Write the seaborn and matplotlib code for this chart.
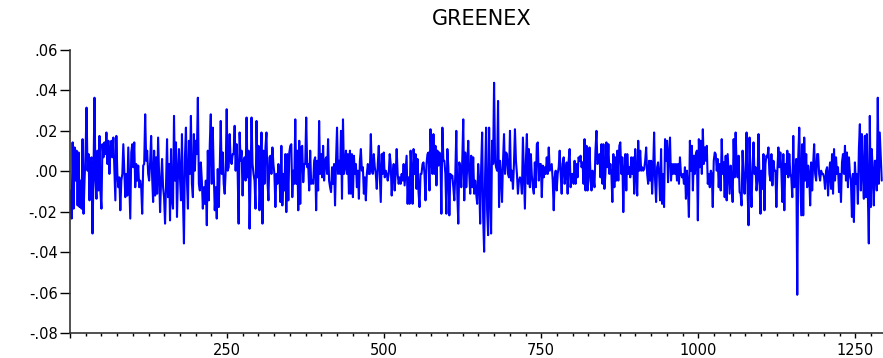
import numpy as np
import pandas as pd
import matplotlib
matplotlib.use("Agg")
import matplotlib.pyplot as plt
import seaborn as sns
from matplotlib.ticker import FuncFormatter, MultipleLocator

sns.set_style("ticks")
plt.rcParams["font.family"] = ["DejaVu Sans"]
plt.rcParams["text.color"] = "black"
plt.rcParams["xtick.color"] = "black"
plt.rcParams["ytick.color"] = "black"

# daily returns, in percent, left to right
seg1 = [-0.95, -2.34, 1.43, -1.85, 1.18, -0.46, 1.02, -1.69, 0.93, -1.77, -0.46, -1.85, 1.59, -2.10,
        -0.46, 0.85, 3.15, 0.03, 0.85, -1.44, 0.52, 0.69, -3.08, -0.13, 3.64, -0.46, -1.36, 1.02,
        -0.95, 1.75, -1.03, -1.85, 1.34, 0.69, 1.43, 0.85, 1.92, 0.36, 1.51, -0.13, 1.02, 1.51, 0.69,
        1.67, 0.03, -1.44, 1.75, -0.13, -0.79, -0.30, -1.93, -0.46, -0.13, 1.34, 0.03, -1.28, -0.13,
        -1.20, 1.18, -0.62, -2.34, 0.93, 1.34, 0.20, 1.43, -0.79, 0.36, -0.46, 0.28, -0.79, -0.46,
        -0.79, -2.10, 0.28]
seg2 = [0.36, 2.82, 0.52, 1.02, -0.13, -0.46, 0.44, 1.75, -0.30, -1.52, 1.02, -1.20, 0.69, -1.11,
        1.67, -0.13, -2.02, -0.46, 0.61, -0.79, -1.28, -2.59, -0.62, 1.59, -1.28, 0.36, -2.43, 1.10,
        -1.44, -1.85, 2.74, -0.46, 1.43, -2.26, -0.13, 1.10, -0.30, -1.44, 1.84, -1.36, -3.57, 0.69,
        2.16, -0.46, -1.85, 1.51, -0.13, 2.74, -0.62, -1.28, 1.84, 0.03, 1.51, 0.85, 3.64, -0.62,
        -0.95, 0.44, -0.46, -1.85, -0.79, -1.61, -0.46, -2.67, 1.02, -1.44, 1.34, 2.82, -0.62, 2.16,
        -0.13, -1.93, -0.79, -2.34, 0.11, -1.77]
seg3 = [0.11, 2.49, -0.13, 0.93, -0.62, -1.11, 0.03, 3.07, 0.03, 0.20, 1.84, 0.52, 0.36, 0.85,
        0.85, 2.25, 0.03, 1.34, 0.03, -2.59, 1.92, 0.52, 1.02, -1.20, 0.52, 0.69, -0.46, 2.66, -0.30,
        1.02, -2.84, -0.46, 2.66, 0.36, -0.13, -0.46, -1.85, 2.49, -0.30, 1.26, -1.93, -0.46, 1.92,
        -2.59, 1.02, -0.62, 1.18, 1.92, -0.46, -1.44, 0.69, 0.77, -0.13, 1.18, 0.36, -0.13, -1.77,
        -0.13, -0.62, 0.36, -0.13, -1.52, 1.26, -1.69, -0.13, -0.95, 0.85, -2.02, 0.85, -1.44, 0.93,
        1.26, 1.34, -1.28, 0.03, -0.62]
seg4 = [2.57, -0.62, 1.02, -1.93, 1.51, -1.61, 1.18, 1.26, -0.54, 0.36, 0.36, 2.66, 0.20, 0.36,
        -0.95, 1.02, -0.62, -0.46, -0.62, 0.52, 0.69, -1.93, 0.52, -0.95, 2.49, -0.13, 0.85, -0.30,
        1.26, -0.46, 0.52, 0.69, -0.13, 1.59, -0.46, -0.79, -1.03, 0.20, -0.62, 0.36, -1.69, 0.52,
        2.16, -0.13, 0.52, -0.13, 2.00, -1.36, 2.57, -0.13, 0.20, 1.02, -0.13, 0.85, -1.11, 1.02,
        -1.11, 0.85, -1.28, 0.77, -0.13, 0.36, -0.79, 0.03, -1.36, 0.52, 1.10, 0.03, 0.20, -1.11,
        -0.30, -1.44, -0.13, 0.36, -0.13]
seg5 = [-0.13, 1.84, 0.03, -0.13, 0.85, 0.20, -0.13, -0.87, 0.36, 1.26, -0.13, -1.52, 0.85, -0.13,
        0.93, -0.30, 0.03, -0.13, -0.46, -0.13, 0.85, 0.36, -1.20, -0.13, 0.36, -0.95, -0.13, 1.10,
        -0.13, -0.62, -0.30, -0.62, -0.13, -0.46, 0.36, -0.70, 0.03, 0.77, -1.61, -0.30, -1.61, 1.02,
        0.03, -1.61, 1.10, -0.13, 0.85, -0.87, 0.61, -1.03, -1.77, -0.13, -0.13, 0.36, 0.44, -0.13,
        -1.44, 0.36, 0.85, 0.93, -0.95, 2.08, 0.52, -0.13, 1.84, -0.13, 1.26, -0.70, 1.02, 0.28,
        0.93, 0.69, -2.10, 2.16, 0.52]
seg6 = [0.52, -0.13, -2.10, 1.10, 0.20, -2.18, -0.13, -0.30, -0.21, -0.79, -1.44, -0.13, 2.00,
        -1.11, -2.59, 0.44, 0.20, -0.79, 0.52, 2.57, -1.44, 0.93, -0.79, 0.20, 1.51, -0.13, -1.11,
        0.77, -0.79, 0.69, -1.11, -0.46, -1.11, -1.61, 0.36, -0.46, -2.59, 0.20, 1.92, -2.26, -3.98,
        -0.13, 2.16, -1.93, -3.16, 2.16, -1.11, -3.08, 1.51, 0.36, 4.38, 0.52, 0.20, 0.03, 3.48,
        -1.77, 0.52, -0.13, -1.52, 0.52, 1.84, -0.13, 0.93, 0.85, -0.13, -0.30, 2.00, -0.46, 0.03,
        -0.87, 0.36, 2.08, 0.52, -0.13, -1.11, -0.46]
seg7 = [-0.30, -0.46, -1.11, 1.67, -0.13, -1.85, 0.52, 1.84, -0.62, 1.10, -0.79, 0.85, -0.21,
        -0.79, -1.11, 0.44, -0.79, 1.34, 1.43, -0.46, 0.36, 0.36, -1.28, 0.28, -0.30, 0.20, -0.13,
        0.69, -0.13, 1.18, 0.03, 0.20, 0.36, -0.46, -1.93, -0.30, 0.03, -0.95, -0.13, 0.20, 1.02,
        -0.13, -1.11, 0.36, 0.69, -0.62, -0.13, 0.44, -1.11, 0.52, 1.10, -0.79, -0.13, -0.13, -0.62,
        0.52, -0.62, 0.36, -0.30, 0.69, 0.52, 0.77, 0.20, 0.44, -0.62, 1.59, -0.95, 1.26, -0.95,
        -0.46, 1.18, -0.13, -0.95, 0.03, -0.30]
seg8 = [-0.79, 1.02, 2.00, 0.36, 0.44, 0.85, -0.30, 1.34, -0.62, 1.34, -0.87, -0.13, 1.43, 0.20,
        1.34, -0.13, 0.36, -0.13, -1.52, 0.85, -0.79, 0.69, -0.46, 1.02, -0.46, 1.26, 1.43, -0.13,
        0.69, -2.02, 0.03, 0.85, -0.95, 0.85, -0.13, 0.20, -0.30, 0.69, -0.13, 0.69, -1.11, 1.10,
        -0.13, -1.20, 1.51, 0.03, 1.02, 0.03, 0.20, 0.03, 0.11, 0.52, 1.18, -0.13, -0.62, 0.52,
        -0.46, 0.52, -1.11, 0.03, 1.92, -0.46, -1.52, 0.20, 0.44, -0.13, -1.44, 1.10, -1.61, -0.13,
        -1.77, 1.59, 0.52, 1.51, -0.54]
seg9 = [0.85, 1.67, -0.46, 0.36, -0.13, 0.36, -0.13, 0.36, -0.46, 0.36, -0.62, 0.69, -0.13, -0.30,
        -0.13, -0.62, 0.20, -1.36, 0.03, -0.79, -2.26, 1.51, 0.03, 1.26, -0.95, 0.77, -0.13, 0.85,
        1.02, -2.43, 1.59, 0.20, 1.51, -0.13, 2.08, 0.36, 1.18, 0.52, 1.26, -0.62, -0.13, -0.79,
        0.03, -0.13, -1.77, 0.52, 0.93, 0.85, 0.03, 0.61, -0.79, 0.36, -0.95, 1.59, -0.13, 0.44,
        -1.28, 0.77, -1.44, 0.85, -0.13, -1.11, 0.28, -0.54, -1.52, 1.59, -0.30, 1.92, 0.36, -0.30,
        0.77, -1.03, -1.11, -1.69, 1.02]
seg10 = [-0.30, -1.11, 0.03, 1.92, -0.87, -2.67, 1.67, -0.62, -1.77, 0.20, 1.43, -0.13, 0.20,
         -0.95, -0.46, 1.84, -0.30, -2.10, 0.03, -0.87, 0.85, -1.93, 0.36, 0.77, 0.69, 1.18, -0.13,
         -0.46, 0.85, -0.70, 0.52, 0.03, 0.03, -1.77, 0.03, 1.18, 0.20, 0.93, 0.03, -1.52, 0.85,
         -1.93, 0.36, -0.13, 1.02, -0.30, 0.85, -0.13, -0.30, -1.28, 1.75, -0.79, -0.30, 0.61, -6.11,
         0.69, 2.16, -0.13, -2.18, 1.34, -2.18, 1.67, -0.46, 0.85, -0.79, 0.28, -0.13, -1.69, 0.44,
         -0.95, 0.36, 1.34, -0.13, -0.46, 0.85]
seg11 = [0.85, -0.13, -0.46, 0.03, -0.13, -0.13, -0.30, -0.87, 0.03, 0.20, -1.20, -0.13, 0.44,
         -0.87, 0.85, -1.11, 1.10, -0.46, 0.69, -0.13, 0.20, -1.03, -0.13, -1.52, 0.44, 0.85, -0.13,
         1.26, -0.46, 0.93, -0.79, 0.69, -0.13, -0.46, -2.26, -0.13, -2.51, 0.44, -0.62, -0.13, -1.61,
         1.10, 2.33, -0.95, 1.84, -0.13, -1.36, 1.75, -1.28, 1.84, -1.11, -3.57, 2.74, -1.77, 1.10,
         -0.13, -1.69, 0.52, 0.52, -0.95, 3.64, -0.62, 1.92, 0.69, -0.46]

returns = np.array(seg1 + seg2 + seg3 + seg4 + seg5 + seg6 + seg7 + seg8 + seg9 + seg10 + seg11) / 100
obs = np.linspace(1, 1292, len(returns))
df = pd.DataFrame({"obs": obs, "GREENEX": returns})

fig = plt.figure(figsize=(8.83, 3.58), dpi=100)
ax = fig.add_axes([70 / 883, 25 / 358, 813 / 883, 283 / 358])
sns.lineplot(data=df, x="obs", y="GREENEX", ax=ax, color="#0000ff", linewidth=1.5)

ax.set_xlim(0, 1294)
ax.set_ylim(-0.08, 0.06)
ax.set_yticks(np.arange(-0.08, 0.061, 0.02))


def yfmt(v, pos):
    if abs(v) < 1e-9:
        return ".00"
    return f"{v:.2f}".replace("0.", ".", 1)


def xfmt(v, pos):
    return "" if v < 1 else f"{v:.0f}"


ax.yaxis.set_major_formatter(FuncFormatter(yfmt))
ax.xaxis.set_major_locator(MultipleLocator(250))
ax.xaxis.set_minor_locator(MultipleLocator(25))
ax.xaxis.set_major_formatter(FuncFormatter(xfmt))
ax.tick_params(axis="y", direction="out", length=7, width=1, pad=2, labelsize=10.5)
ax.tick_params(axis="x", which="major", direction="out", length=3.5, width=1, pad=4, labelsize=10.5)
ax.tick_params(axis="x", which="minor", direction="out", length=2, width=1)
ax.set_xlabel("")
ax.set_ylabel("")
for s in ["top", "right"]:
    ax.spines[s].set_visible(False)
for s in ["left", "bottom"]:
    ax.spines[s].set_linewidth(1.2)
    ax.spines[s].set_color("#333333")

fig.text(482 / 883, 1 - 19 / 358, "GREENEX", ha="center", va="center", fontsize=15)

fig.savefig("out.png", dpi=100)
